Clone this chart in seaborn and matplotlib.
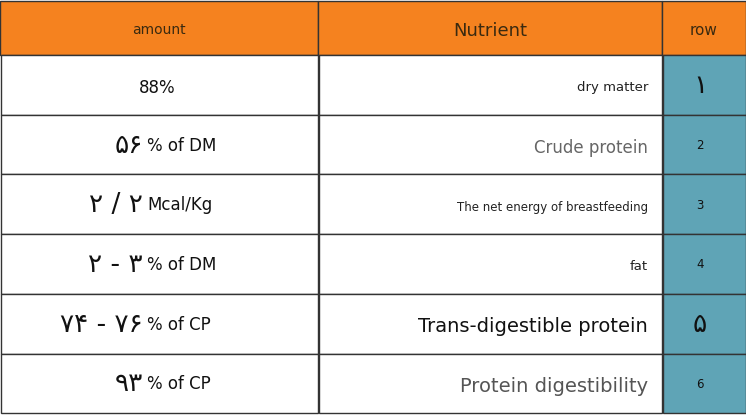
import matplotlib.pyplot as plt
import seaborn as sns
from matplotlib.patches import Rectangle

sns.set_theme(style="white")

headers = ["amount", "Nutrient", "row"]
amount_nums = ["", "۵۶", "۲ / ۲", "۲ - ۳", "۷۴ - ۷۶", "۹۳"]
amount_units = ["88%", "% of DM", "Mcal/Kg", "% of DM", "% of CP", "% of CP"]
nutrients = ["dry matter", "Crude protein", "The net energy of breastfeeding",
             "fat", "Trans-digestible protein", "Protein digestibility"]
nutrient_sizes = [9.5, 12, 8.5, 9.5, 14, 14]
nutrient_colors = ["#222222", "#666666", "#222222", "#222222", "#111111", "#555555"]
row_labels = ["۱", "2", "3", "4", "۵", "6"]
row_sizes = [19, 8.5, 8.5, 8.5, 19, 8.5]

col_edges = [0, 318, 662, 746]
header_h = 55
row_h = 59.7

fig = plt.figure(figsize=(7.46, 4.15), dpi=100)
ax = fig.add_axes([0, 0, 1, 1])
ax.set_xlim(0, 746)
ax.set_ylim(415, 0)
ax.axis("off")

orange = "#F5821F"
teal = "#5FA4B6"
edge = "#333333"

# header
for i, h in enumerate(headers):
    x0, x1 = col_edges[i], col_edges[i + 1]
    ax.add_patch(Rectangle((x0, 1), x1 - x0, header_h - 1, facecolor=orange, edgecolor=edge, lw=1))
    ax.text((x0 + x1) / 2, header_h / 2 + 3, h, ha="center", va="center",
            fontsize=[10, 13, 11][i], color="#3a2a10")

for r in range(len(nutrients)):
    y0 = header_h + r * row_h
    yc = y0 + row_h / 2
    for i in range(3):
        x0, x1 = col_edges[i], col_edges[i + 1]
        fc = teal if i == 2 else "white"
        ax.add_patch(Rectangle((x0 + 1, y0), x1 - x0 - 1, row_h, facecolor=fc, edgecolor=edge, lw=1))
    # amount column
    if amount_nums[r]:
        ax.text(143, yc + 1, amount_nums[r], ha="right", va="center", fontsize=19,
                color="#111111", family="DejaVu Sans")
        ax.text(147, yc + 1, amount_units[r], ha="left", va="center", fontsize=12, color="#111111")
    else:
        ax.text(157, yc + 3, amount_units[r], ha="center", va="center", fontsize=12, color="#111111")
    # nutrient column
    ax.text(648, yc + 3, nutrients[r], ha="right", va="center",
            fontsize=nutrient_sizes[r], color=nutrient_colors[r])
    # row column
    ax.text(700, yc + 1, row_labels[r], ha="center", va="center", fontsize=row_sizes[r],
            color="#111111")

fig.savefig("out.png", dpi=100)
